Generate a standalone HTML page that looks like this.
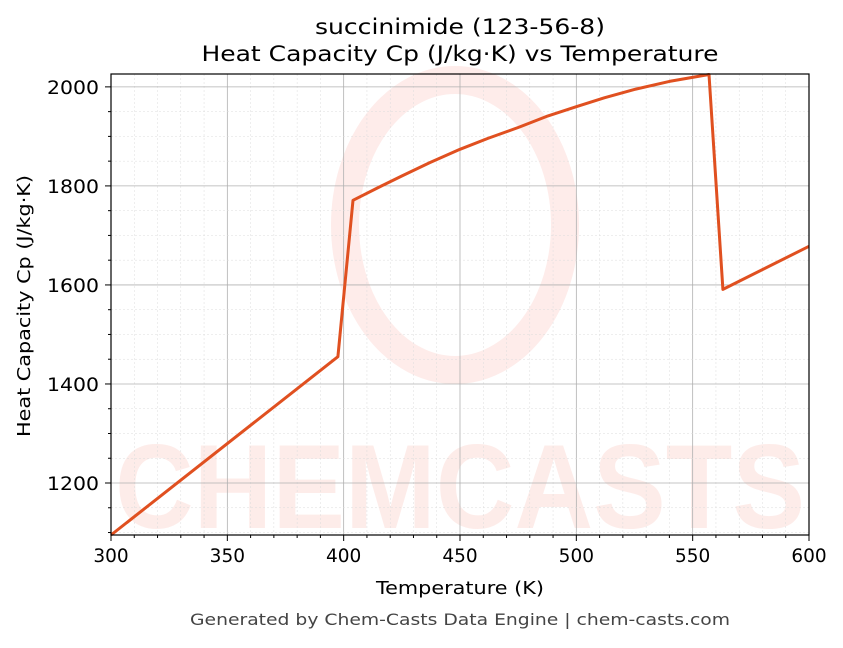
<!DOCTYPE html>
<html><head><meta charset="utf-8"><style>
body{margin:0;background:#fff;width:843px;height:644px;overflow:hidden;font-family:"DejaVu Sans","Liberation Sans",sans-serif;}
</style></head><body>
<svg id="chart" width="843" height="644" xmlns="http://www.w3.org/2000/svg" font-family="DejaVu Sans, Liberation Sans, sans-serif">
<rect width="843" height="644" fill="#fff"/>
<g id="watermark" opacity="0.6">
<ellipse cx="455" cy="225" rx="110" ry="145" fill="none" stroke="#fde0dc" stroke-width="28"/>
<text x="460" y="528" text-anchor="middle" font-size="120" font-weight="bold" fill="#fde0dc" font-family="Liberation Sans, sans-serif" textLength="690" lengthAdjust="spacingAndGlyphs">CHEMCASTS</text>
</g>
<g id="grid"></g>
<g id="series"></g>
<rect x="111" y="74" width="698" height="461" fill="none" stroke="#000" stroke-width="1.2"/>
<g id="ticks"></g>
<text x="460" y="34" text-anchor="middle" font-size="21" textLength="290" lengthAdjust="spacingAndGlyphs">succinimide (123-56-8)</text>
<text x="460" y="61" text-anchor="middle" font-size="21" textLength="517" lengthAdjust="spacingAndGlyphs">Heat Capacity Cp (J/kg·K) vs Temperature</text>
<text x="460" y="594" text-anchor="middle" font-size="18" textLength="168" lengthAdjust="spacingAndGlyphs">Temperature (K)</text>
<text transform="translate(30,306) rotate(-90)" text-anchor="middle" font-size="18" textLength="262" lengthAdjust="spacingAndGlyphs">Heat Capacity Cp (J/kg·K)</text>
<text x="460" y="625" text-anchor="middle" font-size="16" fill="#444" textLength="540" lengthAdjust="spacingAndGlyphs">Generated by Chem-Casts Data Engine | chem-casts.com</text>
</svg>
<script>
const temps=[300,397.5,404,415,425,437,450,462,475,487,500,512,525,540,557,563,600];
const cpValues=[1095,1455,1771,1797,1820,1847,1874,1896,1918,1940,1960,1978,1995,2011,2025,1591,1678];
const xTicks=[300,350,400,450,500,550,600];
const yTicks=[1200,1400,1600,1800,2000];
const X0=111,X1=809,Y0=74,Y1=535,xmin=300,xmax=600,ymin=1095,ymax=2026;
const sx=v=>X0+(v-xmin)/(xmax-xmin)*(X1-X0);
const sy=v=>Y1-(v-ymin)/(ymax-ymin)*(Y1-Y0);
const NS="http://www.w3.org/2000/svg";
function mk(tag,parent,attrs){const e=document.createElementNS(NS,tag);for(const k in attrs)e.setAttribute(k,attrs[k]);parent.appendChild(e);return e;}
const grid=document.getElementById('grid'),ticks=document.getElementById('ticks'),series=document.getElementById('series');
for(let v=xmin;v<=xmax;v+=10){const x=sx(v);const major=v%50===0;
 const l=mk('line',grid,{x1:x,x2:x,y1:Y0,y2:Y1,stroke:major?'#b0b0b0':'#dcdcdc','stroke-width':major?0.8:0.5,'stroke-dasharray':major?'':'2,2'});
 
 
 const t=mk('line',ticks,{x1:x,x2:x,y1:Y1,y2:Y1+(major?6:3),stroke:'#000','stroke-width':1});
 
 }
for(let v=1100;v<=2000;v+=50){const y=sy(v);const major=v%200===0;
 const l=mk('line',grid,{x1:X0,x2:X1,y1:y,y2:y,stroke:major?'#b0b0b0':'#dcdcdc','stroke-width':major?0.8:0.5,'stroke-dasharray':major?'':'2,2'});
 
 
 const t=mk('line',ticks,{x1:X0-(major?6:3),x2:X0,y1:y,y2:y,stroke:'#000','stroke-width':1});
 
 }
xTicks.forEach(v=>{const t=mk('text',ticks,{x:sx(v),y:Y1+27,'text-anchor':'middle','font-size':18.5});t.textContent=v;
 
 });
yTicks.forEach(v=>{const t=mk('text',ticks,{x:X0-12,y:sy(v)+7,'text-anchor':'end','font-size':18.5,textLength:52,lengthAdjust:'spacingAndGlyphs'});t.textContent=v;
 
 });
let d='';temps.forEach((t,i)=>{d+=(i?'L':'M')+sx(t).toFixed(1)+','+sy(cpValues[i]).toFixed(1);});
const p=mk('path',series,{d:d,fill:'none',stroke:'#e05020','stroke-width':3,'stroke-linejoin':'round'});


</script>
</body></html>
